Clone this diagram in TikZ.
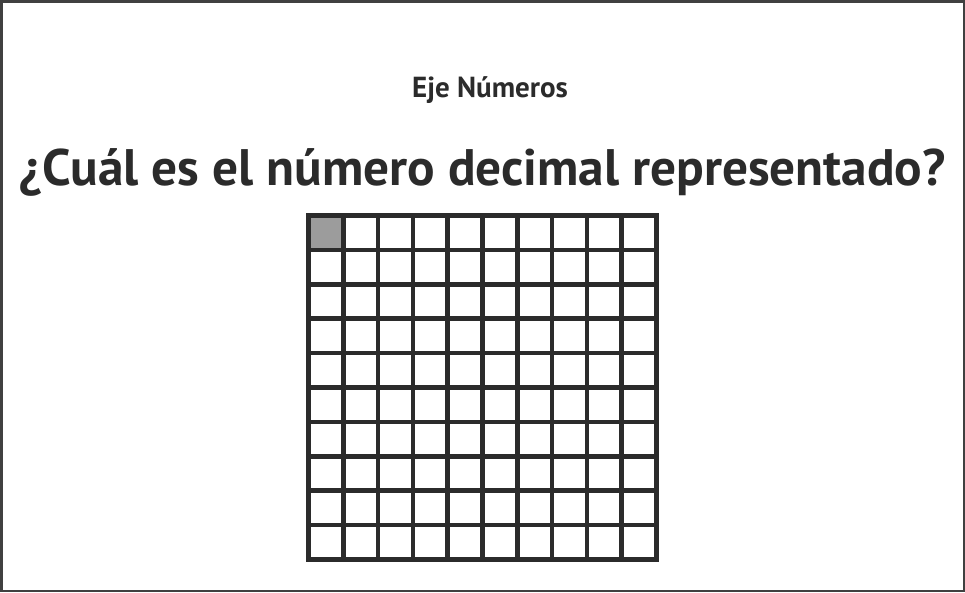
\documentclass[tikz,border=0pt]{standalone}
\usepackage{fontspec}
\setmainfont{PT Sans}
\definecolor{ink}{HTML}{2B2B2B}
\definecolor{cellfill}{HTML}{9C9C9C}
\begin{document}
\begin{tikzpicture}[x=1pt,y=-1pt,
  frame/.style={draw=ink!90,line width=2.5pt},
  gridline/.style={draw=ink,line width=4.6pt},
  shaded/.style={fill=cellfill},
  txt/.style={inner sep=0pt,anchor=base,text=ink,font=\bfseries}]
\useasboundingbox (0,0) rectangle (965,592);
\fill[white] (0,0) rectangle (965,592);
\draw[frame] (1.25,1.25) rectangle (963.75,590.75);
\node[txt,font=\bfseries\fontsize{29}{34}\selectfont] (sub) at (490,97) {Eje Números};
\node[txt,font=\bfseries\fontsize{51.3}{58}\selectfont] (title) at (482.5,185) {¿Cuál es el número decimal representado?};
\fill[shaded] (308.5,215.5) rectangle (343.3,249.9);
\foreach \i in {0,...,10} {
  \draw[gridline] (308.5+\i*34.8,215.5) -- (308.5+\i*34.8,559.5);
  \draw[gridline] (308.5,215.5+\i*34.4) -- (656.5,215.5+\i*34.4);
}
\draw[gridline,line cap=rect] (308.5,215.5) rectangle (656.5,559.5);
\end{tikzpicture}
\end{document}
